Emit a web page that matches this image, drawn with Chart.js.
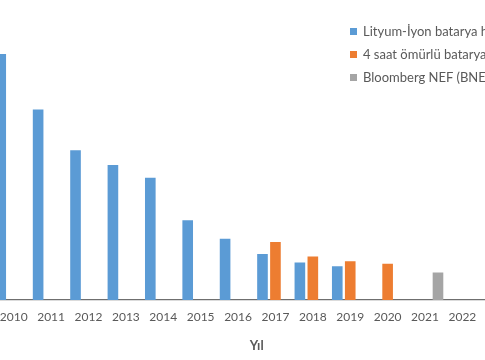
<!DOCTYPE html>
<html>
<head>
<meta charset="utf-8">
<script src="https://cdn.jsdelivr.net/npm/chart.js@4.4.1/dist/chart.umd.min.js"></script>
<style>
  html, body { margin: 0; padding: 0; background: #fff; overflow: hidden; }
  #frame { position: relative; width: 485px; height: 360px; overflow: hidden; }
  #wrap { position: absolute; left: -40px; top: 0; width: 600px; height: 360px; }
  #legend { position: absolute; left: 350px; top: 21px; font-family: Lato, sans-serif; font-size: 13px; color: #595959; white-space: nowrap; }
  #legend div { height: 23px; line-height: 20px; }
  #legend span.box { display: inline-block; width: 7px; height: 7px; margin-right: 6px; vertical-align: 1px; }
</style>
</head>
<body>
<div id="frame">
  <div id="wrap"><canvas id="chart"></canvas></div>
  <div id="legend"></div>
</div>
<script>
// years on the category axis (2023 sits just off the right edge)
const years = ['2010', '2011', '2012', '2013', '2014', '2015', '2016', '2017', '2018', '2019', '2020', '2021', '2022', '2023'];

// $/kWh
const liIonPrices = [1183, 917, 721, 650, 588, 384, 295, 221, 181, 162, null, null, null, null];
const fourHourPrices = [null, null, null, null, null, null, null, 279, 209, 187, 175, null, null, null];
const bnefPrices = [null, null, null, null, null, null, null, null, null, null, null, 132, null, null];

const seriesNames = [
  'Lityum-İyon batarya hücre ve paket fiyatı',
  '4 saat ömürlü batarya sistemi maliyeti',
  'Bloomberg NEF (BNEF) 2021 tahmini',
];
const colors = ['#5b9bd5', '#ed7d31', '#a5a5a5'];

document.addEventListener('DOMContentLoaded', () => {
  const ctx = document.getElementById('chart').getContext('2d');

  const datasets = [liIonPrices, fourHourPrices, bnefPrices].map((d, i) => ({
    label: seriesNames[i],
    data: d,
    backgroundColor: colors[i],
    categoryPercentage: 1.04,
    barPercentage: 0.82,
  }));

  new Chart(ctx, {
    type: 'bar',
    data: { labels: years, datasets },
    options: {
      responsive: true,
      maintainAspectRatio: false,
      animation: false,
      layout: { padding: { left: 35, right: 41.5, top: 9, bottom: 6 } },
      plugins: {
        legend: { display: false },
        tooltip: { enabled: false },
      },
      scales: {
        x: {
          grid: { display: false, drawTicks: false },
          border: { color: '#6f6f6f', width: 1.2 },
          ticks: {
            padding: 10,
            color: '#595959',
            font: { family: 'Lato', size: 12 },
            maxRotation: 0,
            autoSkip: false,
          },
          title: {
            display: true,
            text: 'Yıl',
            color: '#595959',
            font: { family: 'Lato', size: 13, weight: 'bold' },
            padding: { top: 4, bottom: 0 },
          },
        },
        y: {
          display: false,
          min: 0,
          max: 1400,
        },
      },
    },
  });

  const legend = document.getElementById('legend');
  seriesNames.forEach((name, i) => {
    const row = document.createElement('div');
    row.innerHTML = `<span class="box" style="background:${colors[i]}"></span>${name}`;
    legend.appendChild(row);
  });
});
</script>
</body>
</html>
